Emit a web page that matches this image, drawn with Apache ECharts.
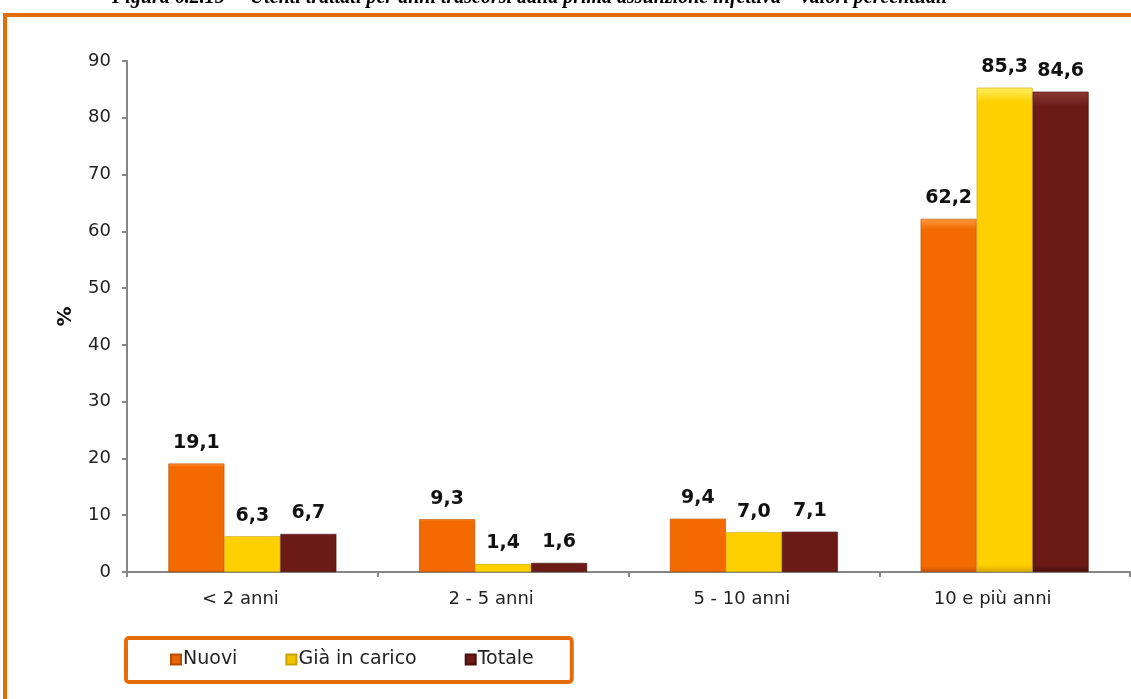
<!DOCTYPE html>
<html>
<head>
<meta charset="utf-8">
<script src="https://cdn.jsdelivr.net/npm/echarts@6/dist/echarts.min.js"></script>
<style>
  html, body { margin: 0; padding: 0; background: #fff; }
  #chart { width: 1131px; height: 699px; }
</style>
</head>
<body>
<div id="chart"></div>
<script>
const categories = ['< 2 anni', '2 - 5 anni', '5 - 10 anni', '10 e più anni']
const nuovi = [19.1, 9.3, 9.4, 62.2]
const giaInCarico = [6.3, 1.4, 7.0, 85.3]
const totale = [6.7, 1.6, 7.1, 84.6]
const seriesNames = ['Nuovi', 'Già in carico', 'Totale']

const fontFamily = '"DejaVu Sans", sans-serif'
const frameColor = '#E36C09'

const bevel = (top, mid, bottom) => new echarts.graphic.LinearGradient(0, 0, 0, 1, [
  { offset: 0, color: top },
  { offset: 0.03, color: mid },
  { offset: 0.985, color: mid },
  { offset: 1, color: bottom }
])

const colors = [
  { fill: bevel('#FF9A40', '#F26A00', '#C45200'), legend: '#E8650A', border: '#B94E00' },
  { fill: bevel('#FFF060', '#FFD000', '#D9A800'), legend: '#F2C400', border: '#C9A200' },
  { fill: bevel('#8E3A33', '#6B1A16', '#4A0F0C'), legend: '#6B1A16', border: '#4A100D' }
]

const chart = echarts.init(document.getElementById('chart'))

const makeSeries = (name, data, c) => ({
  name,
  type: 'bar',
  data,
  barGap: '0%',
  barCategoryGap: '33%',
  itemStyle: {
    color: c.fill,
    borderColor: c.border,
    borderWidth: 0.6
  },
  label: {
    show: true,
    position: 'top',
    distance: 11,
    fontFamily,
    fontSize: 19,
    fontWeight: 'bold',
    color: '#111',
    formatter: p => p.value.toFixed(1).replace('.', ',')
  }
})

const option = {
  animation: false,
  title: {
    text: '{b|Figura 6.2.15} {i|–  Utenti trattati per anni trascorsi dalla prima assunzione infettiva – valori percentuali}',
    left: 112,
    top: -12,
    padding: 0,
    textStyle: {
      rich: {
        b: { fontFamily: '"Liberation Serif", serif', fontSize: 20, fontWeight: 'bold', fontStyle: 'italic', color: '#000' },
        i: { fontFamily: '"Liberation Serif", serif', fontSize: 20, fontStyle: 'italic', color: '#000' }
      }
    }
  },
  graphic: [
    {
      type: 'rect',
      shape: { x: 5, y: 15, width: 1140, height: 720 },
      style: { fill: 'none', stroke: frameColor, lineWidth: 4 },
      silent: true
    }
  ],
  legend: {
    data: seriesNames.map((n, i) => ({ name: n, itemStyle: { color: colors[i].legend } })),
    left: 126,
    top: 638,
    orient: 'horizontal',
    itemWidth: 10,
    itemHeight: 10,
    itemGap: 48,
    icon: 'rect',
    padding: [12, 38, 13, 44],
    borderColor: frameColor,
    borderWidth: 4,
    borderRadius: 3,
    textStyle: { fontFamily, fontSize: 19, color: '#222', padding: [0, 0, 0, -3] }
  },
  grid: {
    left: 127,
    right: 1,
    top: 61,
    bottom: 127,
    containLabel: false
  },
  xAxis: {
    type: 'category',
    data: categories,
    axisLine: { lineStyle: { color: '#868686', width: 2 } },
    axisTick: { show: true, length: 5, lineStyle: { color: '#868686', width: 2 } },
    axisLabel: { fontFamily, fontSize: 18, color: '#222', margin: 18, padding: [0, 24, 0, 0] }
  },
  yAxis: {
    type: 'value',
    min: 0,
    max: 90,
    interval: 10,
    name: '%',
    nameLocation: 'middle',
    nameGap: 51,
    nameRotate: 90,
    nameTextStyle: { fontFamily, fontSize: 20, fontWeight: 'bold', color: '#111' },
    axisLine: { show: true, lineStyle: { color: '#868686', width: 2 } },
    axisTick: { show: true, length: 5, lineStyle: { color: '#868686', width: 2 } },
    splitLine: { show: false },
    axisLabel: { fontFamily, fontSize: 18, color: '#222', margin: 16 }
  },
  series: [
    makeSeries(seriesNames[0], nuovi, colors[0]),
    makeSeries(seriesNames[1], giaInCarico, colors[1]),
    makeSeries(seriesNames[2], totale, colors[2])
  ]
}

chart.setOption(option)
</script>
</body>
</html>
